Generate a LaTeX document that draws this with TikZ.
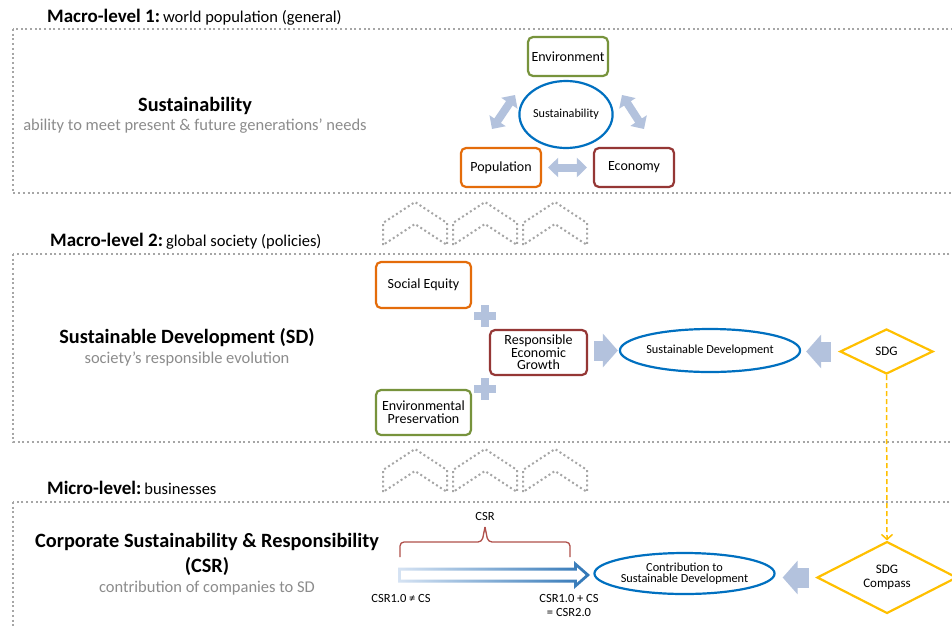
\documentclass[tikz,border=0pt]{standalone}
\usepackage{fontspec}
\setmainfont{Carlito}
\usetikzlibrary{shapes.geometric,arrows.meta,calc}

\definecolor{dotgray}{HTML}{A6A6A6}
\definecolor{subgray}{HTML}{8C8C8C}
\definecolor{envgreen}{HTML}{77933C}
\definecolor{poporange}{HTML}{E46C0A}
\definecolor{ecored}{HTML}{953735}
\definecolor{ovalblue}{HTML}{0070C0}
\definecolor{sdgyellow}{HTML}{FFC000}
\definecolor{arrowfill}{HTML}{B3C2DD}
\definecolor{bracered}{HTML}{B0504B}
\definecolor{csrblue}{HTML}{2E75B6}
\definecolor{csrlight}{HTML}{D6E3F3}

\newcommand\pxsize[1]{\fontsize{#1}{#1}\selectfont}

\tikzset{
  region/.style={draw=dotgray, line width=2pt, dash pattern=on 2pt off 2.7pt},
  chevron/.style={draw=dotgray, line width=2pt, dash pattern=on 2pt off 2.7pt},
  box/.style={draw, line width=2.2pt, rounded corners=5pt, fill=white, align=center,
    inner sep=0pt, font=\pxsize{14}},
  oval/.style={ellipse, draw=ovalblue, line width=2.2pt, fill=white, align=center,
    inner sep=0pt, font=\pxsize{12.3}},
  gem/.style={diamond, draw=sdgyellow, line width=2.2pt, fill=white, align=center,
    inner sep=0pt, font=\pxsize{13}},
  twoway/.style={line width=8pt, draw=arrowfill,
    {Triangle[length=10pt,width=19pt]}-{Triangle[length=10pt,width=19pt]}},
  blockarrow/.style={line width=20pt, draw=arrowfill,
    -{Triangle[length=15pt,width=33pt]}},
  heading/.style={anchor=base west, inner sep=0pt},
  maintitle/.style={anchor=base, inner sep=0pt, font=\pxsize{20.3}\bfseries, align=center},
  subtitle/.style={anchor=base, inner sep=0pt, font=\pxsize{16.5}, text=subgray},
  smalllabel/.style={inner sep=0pt, font=\pxsize{12.5}, align=center},
}

\begin{document}
\begin{tikzpicture}[x=1pt, y=-1pt]
\useasboundingbox (0,0) rectangle (952,627);
\clip (0,0) rectangle (952,627);
\fill[white] (0,0) rectangle (952,627);

% ---------- dotted level frames ----------
\draw[region] (13,29) rectangle (970,193);
\draw[region] (13,254) rectangle (970,442);
\draw[region] (13,502) rectangle (970,650);

% ---------- chevrons between the levels ----------
\foreach \dy in {0,247}{
  \foreach \xo in {383,453,523}{
    \draw[chevron] (\xo,245+\dy) -- (\xo,223+\dy) -- (\xo+32,202+\dy)
      -- (\xo+64,223+\dy) -- (\xo+64,245+\dy) -- (\xo+32,224+\dy) -- cycle;
  }
}

% ---------- level headings ----------
\node[heading] (h1) at (47,22) {{\pxsize{19}\bfseries Macro-level 1:} {\pxsize{16.5}world population (general)}};
\node[heading] (h2) at (50,246) {{\pxsize{19}\bfseries Macro-level 2:} {\pxsize{16.5}global society (policies)}};
\node[heading] (h3) at (47,494) {{\pxsize{19}\bfseries Micro-level:} {\pxsize{16.5}businesses}};

% ---------- level 1: sustainability ----------
\node[maintitle] (t1) at (195,111) {Sustainability};
\node[subtitle] (s1) at (195,130) {ability to meet present \& future generations’ needs};

\node[box, draw=envgreen, minimum width=80pt, minimum height=39pt] (env) at (568,56.5) {Environment};
\node[box, draw=poporange, minimum width=80pt, minimum height=39pt] (pop) at (501,167.5) {Population};
\node[box, draw=ecored, minimum width=80pt, minimum height=39pt] (eco) at (634,167.5) {Economy};
\node[oval, minimum width=84pt, minimum height=67pt, font=\pxsize{12.2}] (sus) at (566,114.5) {Sustainability};

\coordinate (pe1) at (492,129);
\coordinate (pe2) at (515,95);
\coordinate (ee1) at (622,95);
\coordinate (ee2) at (644,129);
\draw[twoway] (pe1) -- (pe2);
\draw[twoway] (ee1) -- (ee2);
\draw[twoway, shorten <=6pt, shorten >=6pt] (pop.east) -- (eco.west);

% ---------- level 2: sustainable development ----------
\node[maintitle] (t2) at (187,343) {Sustainable Development (SD)};
\node[subtitle] (s2) at (187,363) {society’s responsible evolution};

\node[box, draw=poporange, minimum width=95pt, minimum height=46pt] (soc) at (423.5,285) {Social Equity};
\node[box, draw=envgreen, minimum width=95pt, minimum height=45pt] (envp) at (423.5,412.5) {Environmental\\[-1pt]Preservation};
\node[box, draw=ecored, minimum width=97pt, minimum height=45pt] (reg) at (538.5,352.5) {Responsible\\[-1.5pt]Economic\\[-1.5pt]Growth};
\node[oval, minimum width=175pt, minimum height=43pt] (sd) at (710,350.5) {Sustainable Development};
\node[gem, minimum width=93pt, minimum height=45pt] (sdg) at (886.5,351.5) {SDG};

% plus signs
\foreach \py in {316,389}{
  \fill[arrowfill] (474,\py-4) rectangle (496,\py+4);
  \fill[arrowfill] (481,\py-11) rectangle (489,\py+11);
}

\draw[blockarrow, shorten <=6pt, shorten >=1pt] (reg.east |- sd.west) -- (sd.west);
\draw[blockarrow, shorten <=8pt, shorten >=5pt] (sdg.west -| sdg.west) -- (sdg.west -| sd.east);

% ---------- level 3: corporate ----------
\node[maintitle] (t3) at (207,572) {Corporate Sustainability \& Responsibility\\[4pt](CSR)};
\node[subtitle] (s3) at (207,592) {contribution of companies to SD};

\node[oval, minimum width=175pt, minimum height=41pt] (contrib) at (684.5,573.5) {Contribution to\\[-1pt]Sustainable Development};
\node[gem, minimum width=140pt, minimum height=45pt] (compass) at (887,577.5) {SDG\\[1pt]Compass};

\draw[blockarrow, shorten <=7pt, shorten >=7pt] (compass.west) -- (compass.west -| contrib.east);

\draw[sdgyellow, line width=1.5pt, dash pattern=on 5pt off 3pt,
  -{Straight Barb[length=5pt,width=11pt]}] (sdg.south) -- (compass.north);

% CSR brace
\node[smalllabel] (csr) at (485,516) {CSR};
\draw[bracered, line width=1.3pt, rounded corners=4pt]
  (400,557) -- (400,542) -- (482,542) -- (485,527);
\draw[bracered, line width=1.3pt, rounded corners=4pt]
  (570,557) -- (570,542) -- (488,542) -- (485,527);

% CSR evolution arrow with fading outline
\shade[left color=csrlight, right color=csrblue]
  (398,567.5) -- (574,567.5) -- (574,561) -- (590,575) -- (574,589) -- (574,582.5) -- (398,582.5) -- cycle;
\fill[white]
  (401,570.5) -- (577,570.5) -- (577,567.5) -- (585.5,575) -- (577,582.5) -- (577,579.5) -- (401,579.5) -- cycle;

\node[smalllabel, anchor=north] (csr1) at (401,594) {CSR1.0 ≠ CS};
\node[smalllabel, anchor=north] (csr2) at (569,594) {CSR1.0 + CS\\[2pt]= CSR2.0};
\end{tikzpicture}
\end{document}
